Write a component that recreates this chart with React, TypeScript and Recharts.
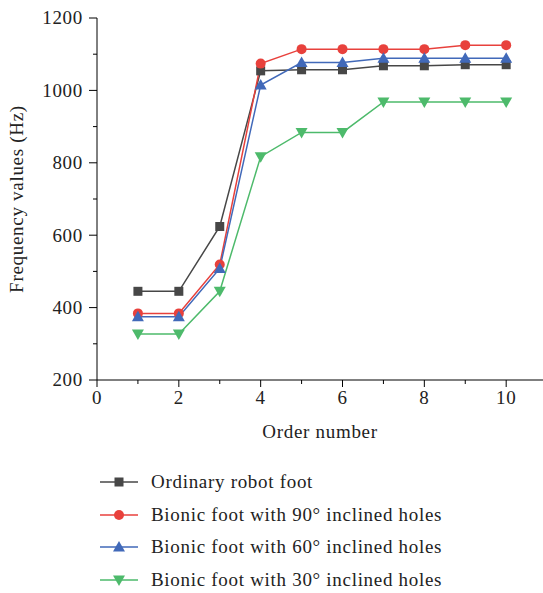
import React from 'react'
import { LineChart, Line, XAxis, YAxis, Legend } from 'recharts'

const orders = [1, 2, 3, 4, 5, 6, 7, 8, 9, 10]
const ordinaryFoot = [445, 445, 624, 1054, 1057, 1057, 1068, 1068, 1071, 1071]
const bionic90 = [384, 384, 519, 1074, 1114, 1114, 1114, 1114, 1125, 1125]
const bionic60 = [375, 375, 508, 1015, 1077, 1077, 1089, 1089, 1089, 1089]
const bionic30 = [327, 327, 445, 817, 884, 884, 968, 968, 968, 968]

const xTicks = [0, 1, 2, 3, 4, 5, 6, 7, 8, 9, 10]
const yTicks = [200, 300, 400, 500, 600, 700, 800, 900, 1000, 1100, 1200]

const FONT = '"Liberation Serif", "DejaVu Serif", serif'
const FS = 19
const LS = 0.7

const data = orders.map((order, i) => ({
  order,
  ordinary: ordinaryFoot[i],
  b90: bionic90[i],
  b60: bionic60[i],
  b30: bionic30[i],
}))

type Shape = 'square' | 'circle' | 'triangle' | 'triangleDown'

const series: Array<{ key: string; name: string; color: string; shape: Shape }> = [
  { key: 'ordinary', name: 'Ordinary robot foot', color: '#474747', shape: 'square' },
  { key: 'b90', name: 'Bionic foot with 90° inclined holes', color: '#e8413c', shape: 'circle' },
  { key: 'b60', name: 'Bionic foot with 60° inclined holes', color: '#4169b9', shape: 'triangle' },
  { key: 'b30', name: 'Bionic foot with 30° inclined holes', color: '#4dba6b', shape: 'triangleDown' },
]

const Marker = ({ shape, cx, cy, color }: { shape: Shape; cx: number; cy: number; color: string }) => {
  if (shape === 'square') return <rect x={cx - 4.5} y={cy - 4.5} width={9} height={9} fill={color} />
  if (shape === 'circle') return <circle cx={cx} cy={cy} r={5} fill={color} />
  if (shape === 'triangle')
    return <polygon points={`${cx},${cy - 6} ${cx - 6},${cy + 4.5} ${cx + 6},${cy + 4.5}`} fill={color} />
  return <polygon points={`${cx},${cy + 6} ${cx - 6},${cy - 4.5} ${cx + 6},${cy - 4.5}`} fill={color} />
}

// major ticks long with a label, minor ticks short and bare
const XTick = ({ x, y, payload }: any) => {
  const v = payload.value
  const major = v % 2 === 0
  const axisY = y - 10
  return (
    <g>
      <line x1={x} x2={x} y1={axisY} y2={axisY + (major ? 7 : 4)} stroke="#000" />
      {major && (
        <text x={x} y={y} dy="0.75em" textAnchor="middle" fontFamily={FONT} fontSize={FS} letterSpacing={LS} fill="#222">
          {v}
        </text>
      )}
    </g>
  )
}

const YTick = ({ x, y, payload }: any) => {
  const v = payload.value
  const major = v % 200 === 0
  const axisX = x + 10
  return (
    <g>
      <line x1={axisX - (major ? 8 : 4)} x2={axisX} y1={y} y2={y} stroke="#000" />
      {major && (
        <text x={x - 4} y={y} dy="0.34em" textAnchor="end" fontFamily={FONT} fontSize={FS} letterSpacing={LS} fill="#222">
          {v}
        </text>
      )}
    </g>
  )
}

const LegendBox = () => (
  <div style={{ paddingTop: 24, paddingLeft: 99, fontFamily: FONT, fontSize: FS, letterSpacing: LS, color: '#222' }}>
    {series.map((s) => (
      <div key={s.key} style={{ display: 'flex', alignItems: 'center', height: 32.5 }}>
        <svg width={40} height={14} style={{ marginRight: 12 }}>
          <line x1={1} y1={7} x2={39} y2={7} stroke={s.color} strokeWidth={1.5} />
          <Marker shape={s.shape} cx={20} cy={7} color={s.color} />
        </svg>
        <span>{s.name}</span>
      </div>
    ))}
  </div>
)

export default function App() {
  const labelStyle = { fontFamily: FONT, fontSize: FS, letterSpacing: LS, fill: '#222' }
  return (
    <div style={{ position: 'absolute', left: 0, top: 0, background: '#fff' }}>
      <LineChart width={543} height={593} data={data} margin={{ top: 18, right: 0, bottom: 0, left: 0 }}>
        <XAxis
          dataKey="order"
          type="number"
          domain={[0, 10.9]}
          ticks={xTicks}
          interval={0}
          tick={<XTick />}
          tickLine={false}
          stroke="#000"
          tickSize={8}
          tickMargin={2}
          height={62}
          label={{ value: 'Order number', position: 'insideBottom', offset: 4, style: labelStyle }}
        />
        <YAxis
          type="number"
          domain={[200, 1200]}
          ticks={yTicks}
          interval={0}
          tick={<YTick />}
          tickLine={false}
          stroke="#000"
          tickSize={8}
          tickMargin={2}
          width={97}
          label={{
            value: 'Frequency values (Hz)',
            angle: -90,
            position: 'insideLeft',
            offset: 16,
            style: { ...labelStyle, textAnchor: 'middle' },
          }}
        />
        <Legend verticalAlign="bottom" height={151} content={() => <LegendBox />} />
        {series.map((s) => (
          <Line
            key={s.key}
            dataKey={s.key}
            name={s.name}
            stroke={s.color}
            strokeWidth={1.5}
            isAnimationActive={false}
            dot={(p: any) => <Marker key={`${s.key}-${p.index}`} shape={s.shape} cx={p.cx} cy={p.cy} color={s.color} />}
            activeDot={false}
          />
        ))}
      </LineChart>
    </div>
  )
}
